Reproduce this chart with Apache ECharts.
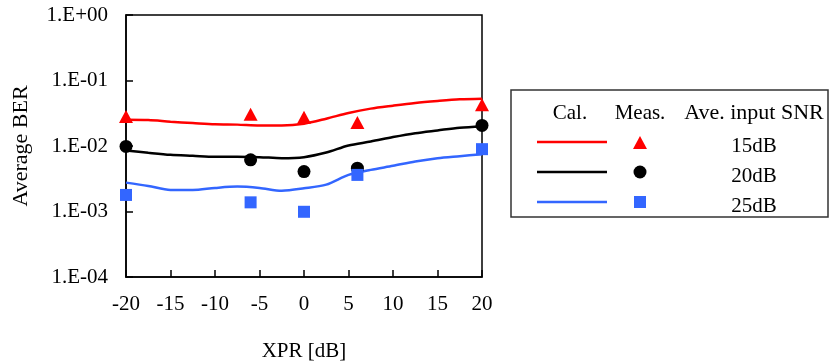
<!DOCTYPE html>
<html>
<head>
<meta charset="utf-8">
<script src="https://cdn.jsdelivr.net/npm/echarts@6/dist/echarts.min.js"></script>
<style>
html, body { margin: 0; padding: 0; background: #fff; }
#chart { width: 830px; height: 364px; }
</style>
</head>
<body>
<div id="chart"></div>
<script>
// XPR 横轴 (dB)
var xCal = [-20, -17.5, -15, -12.5, -10, -7.5, -5, -2.5, 0, 2.5, 5, 7.5, 10, 12.5, 15, 17.5, 20];
var xMeas = [-20, -6, 0, 6, 20];
var xTicks = [-20, -15, -10, -5, 0, 5, 10, 15, 20];

// 计算值 (Cal.)
var cal15 = [0.0252, 0.0249, 0.0235, 0.0224, 0.0214, 0.0212, 0.0206, 0.0206, 0.0219, 0.0261, 0.0319, 0.0372, 0.0413, 0.0454, 0.0487, 0.0516, 0.0528];
var cal20 = [0.00853, 0.00787, 0.00733, 0.00708, 0.00684, 0.00684, 0.00676, 0.00652, 0.00676, 0.00795, 0.0102, 0.0117, 0.0137, 0.0157, 0.0173, 0.019, 0.0199];
var cal25 = [0.00276, 0.00246, 0.00213, 0.00213, 0.00229, 0.0024, 0.00229, 0.00208, 0.00226, 0.00257, 0.00362, 0.00432, 0.00498, 0.0058, 0.00652, 0.007, 0.0075];

// 测量值 (Meas.)
var meas15 = [0.0283, 0.0306, 0.0275, 0.0228, 0.0428];
var meas20 = [0.00984, 0.00615, 0.00407, 0.00458, 0.0206];
var meas25 = [0.00179, 0.00138, 0.00099, 0.00362, 0.00895];

var snrLabels = ['15dB', '20dB', '25dB'];
var colors = ['#ff0000', '#000000', '#3366ff'];
var symbols = ['triangle', 'circle', 'rect'];

var font = '"Liberation Serif", "DejaVu Serif", serif';

function pair(xs, ys) {
	var out = [];
	for (var i = 0; i < xs.length; i++) {
		out.push([xs[i], ys[i]]);
	}
	return out;
}

function berLabel(v) {
	var e = Math.round(Math.log10(v));
	var a = Math.abs(e);
	return '1.E' + (e >= 0 ? '+' : '-') + (a < 10 ? '0' : '') + a;
}

var calList = [cal15, cal20, cal25];
var measList = [meas15, meas20, meas25];
var symSizes = [[14, 13], 13, 12];

var series = [];
for (var i = 0; i < 3; i++) {
	series.push({
		type: 'line',
		data: pair(xCal, calList[i]),
		showSymbol: false,
		smooth: 0.3,
		lineStyle: { color: colors[i], width: 2.5 },
		z: 2
	});
}
for (var i = 0; i < 3; i++) {
	series.push({
		type: 'scatter',
		data: pair(xMeas, measList[i]),
		symbol: symbols[i],
		symbolSize: symSizes[i],
		itemStyle: { color: colors[i], opacity: 1 },
		clip: false,
		z: 3
	});
}

// 图例 (表格样式)
var rowY = [142, 172, 202];
var legendGraphic = [
	{ type: 'rect', shape: { x: 511, y: 90, width: 317, height: 127 }, style: { fill: '#fff', stroke: '#333', lineWidth: 1.5 } },
	{ type: 'text', x: 570, y: 113, style: { text: 'Cal.', font: '21px ' + font, fill: '#000', align: 'center', verticalAlign: 'middle' } },
	{ type: 'text', x: 640, y: 113, style: { text: 'Meas.', font: '21px ' + font, fill: '#000', align: 'center', verticalAlign: 'middle' } },
	{ type: 'text', x: 754, y: 113, style: { text: 'Ave. input SNR', font: '22px ' + font, fill: '#000', align: 'center', verticalAlign: 'middle' } }
];
for (var i = 0; i < 3; i++) {
	legendGraphic.push({ type: 'line', shape: { x1: 537, y1: rowY[i], x2: 607, y2: rowY[i] }, style: { stroke: colors[i], lineWidth: 2.5 } });
	legendGraphic.push({ type: 'text', x: 754, y: rowY[i] + 4, style: { text: snrLabels[i], font: '21px ' + font, fill: '#000', align: 'center', verticalAlign: 'middle' } });
}
legendGraphic.push({ type: 'polygon', shape: { points: [[640, 136], [647, 149], [633, 149]] }, style: { fill: colors[0] } });
legendGraphic.push({ type: 'circle', shape: { cx: 640, cy: 172, r: 6.5 }, style: { fill: colors[1] } });
legendGraphic.push({ type: 'rect', shape: { x: 634, y: 196, width: 12, height: 12 }, style: { fill: colors[2] } });

var myChart = echarts.init(document.getElementById('chart'));
var option = {
	backgroundColor: '#fff',
	animation: false,
	grid: {
		left: 126, right: 348, top: 15, bottom: 87,
		outerBoundsMode: 'none',
		show: true, borderColor: '#000', borderWidth: 1.5, backgroundColor: 'transparent'
	},
	xAxis: {
		type: 'value',
		min: -20, max: 20, interval: 5,
		name: 'XPR [dB]',
		nameLocation: 'middle',
		nameGap: 64,
		nameTextStyle: { fontFamily: font, fontSize: 21, color: '#000' },
		axisLine: { show: true, onZero: false, lineStyle: { color: '#000', width: 1.5 } },
		axisTick: { show: true, inside: true, length: 7, lineStyle: { color: '#000', width: 1.5 } },
		axisLabel: { fontFamily: font, fontSize: 21, color: '#000', margin: 17,
			formatter: function (v) { return xTicks.indexOf(v) >= 0 ? String(v) : ''; } },
		splitLine: { show: false }
	},
	yAxis: {
		type: 'log',
		logBase: 10,
		min: 1e-4, max: 1,
		position: 'left',
		name: 'Average BER',
		nameLocation: 'middle',
		nameGap: 94,
		nameTextStyle: { fontFamily: font, fontSize: 22, color: '#000' },
		axisLine: { show: true, onZero: false, lineStyle: { color: '#000', width: 1.5 } },
		axisTick: { show: true, inside: true, length: 7, lineStyle: { color: '#000', width: 1.5 } },
		axisLabel: { fontFamily: font, fontSize: 21, color: '#000', margin: 18, formatter: berLabel },
		splitLine: { show: false },
		minorTick: { show: false }
	},
	series: series,
	graphic: legendGraphic
};
myChart.setOption(option);
</script>
</body>
</html>
